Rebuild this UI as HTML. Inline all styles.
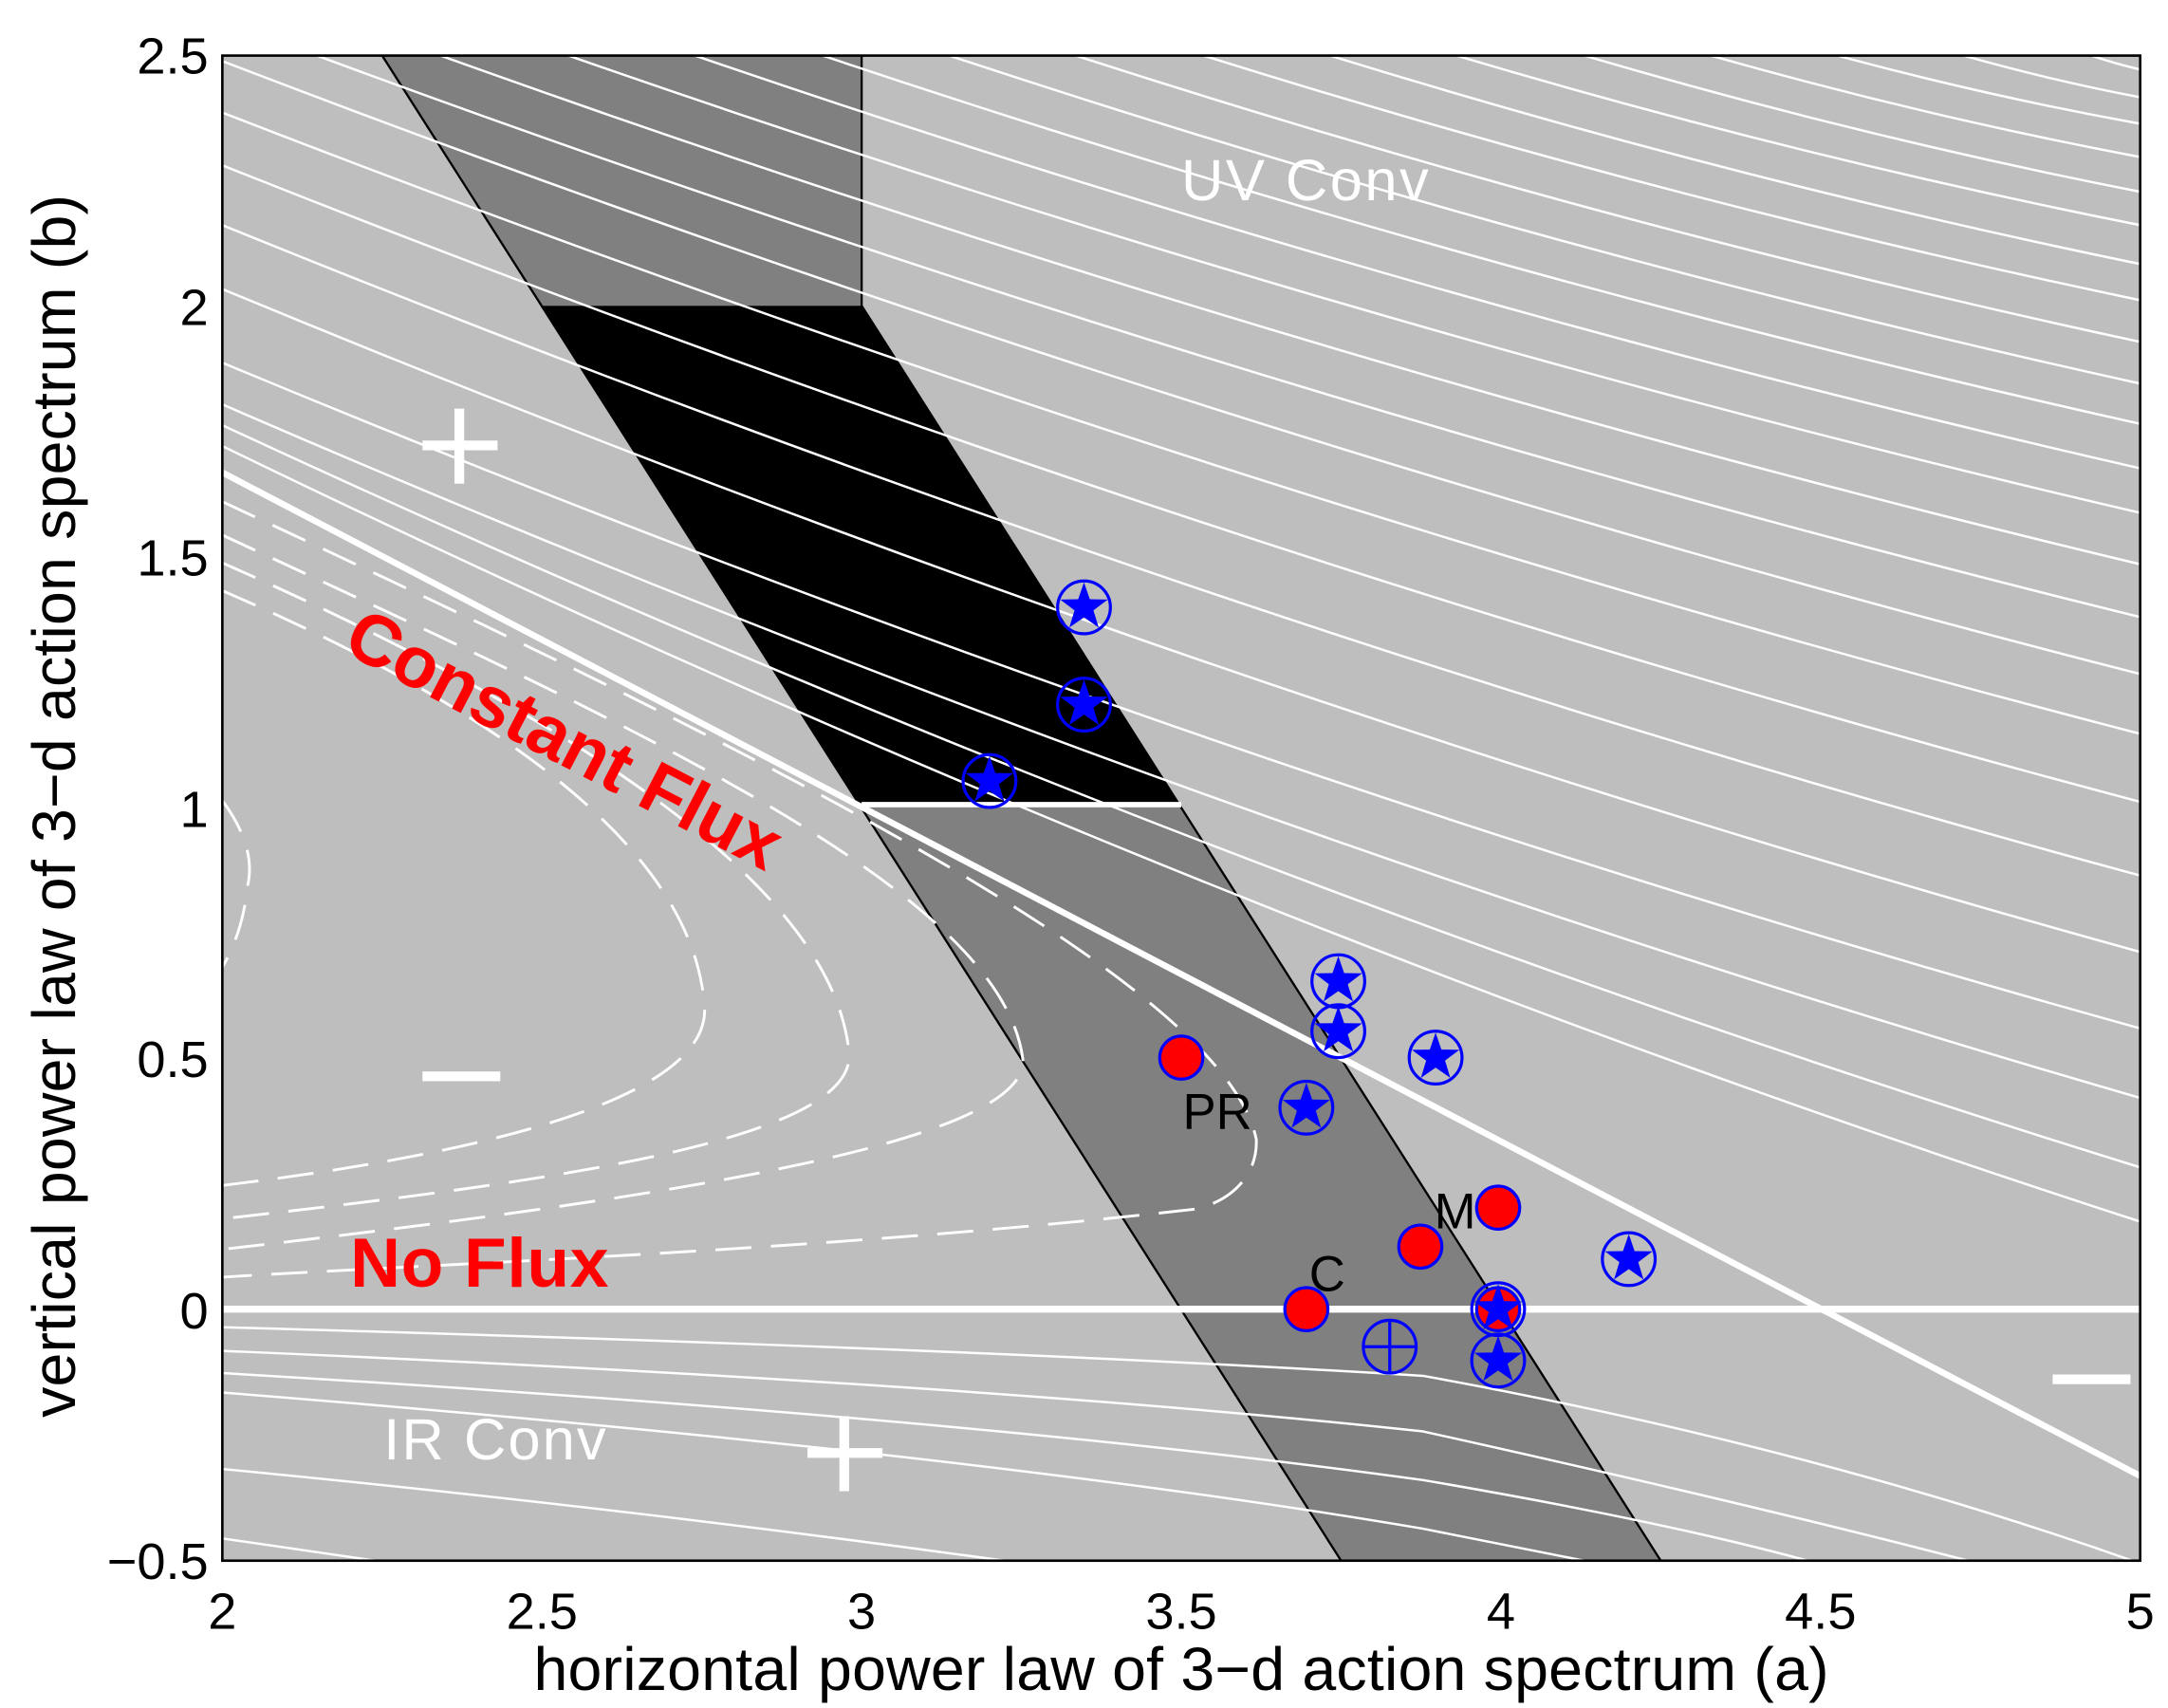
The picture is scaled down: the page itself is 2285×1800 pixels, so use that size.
<!DOCTYPE html>
<html><head><meta charset="utf-8"><style>html,body{margin:0;padding:0;background:#fff}svg{display:block}</style></head>
<body>
<svg width="2285" height="1800" viewBox="0 0 1560 1229" preserveAspectRatio="none" xmlns="http://www.w3.org/2000/svg" font-family="Liberation Sans, Arial, sans-serif">
<defs>
<clipPath id="c"><rect x="160" y="40" width="1380" height="1083"/></clipPath>
<g id="star"><path d="M0,-18 L4.2,-5.8 L17.1,-5.6 L6.8,2.2 L10.6,14.6 L0,7.2 L-10.6,14.6 L-6.8,2.2 L-17.1,-5.6 L-4.2,-5.8 Z" fill="#0000ff"/><circle r="19" fill="none" stroke="#0000ff" stroke-width="2.2"/></g>
<g id="red"><circle r="15.5" fill="#ff0000" stroke="#0000ff" stroke-width="2.2"/></g>
</defs>
<rect x="160" y="40" width="1380" height="1083" fill="#bebebe"/>
<g clip-path="url(#c)">
<polygon points="275,40 620,40 620,220 390,220" fill="#808080"/>
<polygon points="390,220 620,220 850,581 620,581" fill="#000"/>
<polygon points="620,581 850,581 1195,1123 965,1123" fill="#808080"/>
<path d="M275,40 L965,1123 M620,40 L620,220 L1195,1123" stroke="#000" stroke-width="1.6" fill="none"/>
<g stroke="#fff" stroke-width="1.7" fill="none">
<path d="M1505,40 Q1522.5,46 1540,50"/>
<path d="M1413,40 Q1476.5,58 1540,70"/>
<path d="M1322,40 Q1431,69.4 1540,89"/>
<path d="M1231,40 Q1385.5,83.8 1540,113"/>
<path d="M1140,40 Q1340,98.8 1540,138"/>
<path d="M1048,40 Q1294,113.2 1540,162"/>
<path d="M957,40 Q1248.5,130 1540,190"/>
<path d="M866,40 Q1203,145.6 1540,216"/>
<path d="M774,40 Q1157,163.6 1540,246"/>
<path d="M683,40 Q1111.5,181.6 1540,276"/>
<path d="M592,40 Q1066,199 1540,305"/>
<path d="M500,40 Q1020,218.2 1540,337"/>
<path d="M409,40 Q974.5,237.4 1540,369"/>
<path d="M317,40 Q928.5,259.6 1540,406"/>
<path d="M228,40 Q884,282.4 1540,444"/>
<path d="M160,44 Q850,308.6 1540,485"/>
<path d="M160,81 Q850,349.2 1540,528"/>
<path d="M160,119 Q850,393.8 1540,577"/>
<path d="M160,162 Q850,442.8 1540,630"/>
<path d="M160,208 Q850,494.2 1540,685"/>
<path d="M160,261 Q850,548.4 1540,740"/>
<path d="M160,291 Q850,590.4 1540,790"/>
<path d="M160,306 Q850,626.4 1540,840"/>
<path d="M160,321 Q850,655.8 1540,879"/>
<path d="M160,955 Q700,970 1024,990 Q1300,1040 1540,1125"/>
<path d="M160,972 Q700,995 1024,1030 Q1250,1080 1424,1125"/>
<path d="M160,988 Q700,1020 1024,1065 Q1200,1095 1308,1125"/>
<path d="M160,1002 Q700,1045 1024,1100 Q1100,1115 1150,1125"/>
<path d="M160,1057 Q450,1085 737,1125"/>
<path d="M160,1107 L284,1125"/>
</g>
<g stroke="#fff" stroke-width="2" fill="none" stroke-dasharray="26,14">
<path d="M160,361 C500,520 880,700 904,820 C905,850 880,866 860,870 C600,900 300,910 160,919"/>
<path d="M160,385 C450,520 720,640 736,762 C740,820 500,860 160,899"/>
<path d="M160,405 C420,520 600,640 611,758 C615,820 400,850 160,877"/>
<path d="M160,425 C380,520 500,620 507,725 C510,790 350,830 160,853"/>
<path d="M160,576 Q185,610 178,638 Q175,670 160,696"/>
</g>
<path d="M160,340 L1540,1062" stroke="#fff" stroke-width="4.5"/>
<path d="M160,942 L1540,942" stroke="#fff" stroke-width="5"/>
<path d="M620,579 L850,579" stroke="#fff" stroke-width="4"/>
<g fill="#fff">
<rect x="304" y="317" width="54" height="7"/><rect x="327" y="294" width="7" height="54"/>
<rect x="581" y="1042" width="54" height="7"/><rect x="604" y="1019" width="7" height="54"/>
<rect x="304" y="771" width="56" height="7"/>
<rect x="1477" y="989" width="56" height="7"/>
</g>
<text x="850" y="144" font-size="42" fill="#fff" textLength="178">UV Conv</text>
<text x="276" y="1050" font-size="42" fill="#fff" textLength="160">IR Conv</text>
<text x="245" y="468" font-size="52" font-weight="bold" fill="#ff0000" textLength="345" transform="rotate(27.5 245 468)">Constant Flux</text>
<text x="252" y="926" font-size="50" font-weight="bold" fill="#ff0000" textLength="186">No Flux</text>
<text x="851" y="812" font-size="36" fill="#000">PR</text>
<text x="942" y="929" font-size="36" fill="#000">C</text>
<text x="1032" y="884" font-size="36" fill="#000">M</text>
<use href="#red" x="850" y="761"/>
<use href="#red" x="1078" y="869"/>
<use href="#red" x="1022" y="897"/>
<use href="#red" x="940" y="942"/>
<use href="#red" x="1078" y="942"/>
<use href="#star" x="780" y="437"/>
<use href="#star" x="780" y="507"/>
<use href="#star" x="712" y="562"/>
<use href="#star" x="963" y="706"/>
<use href="#star" x="963" y="742"/>
<use href="#star" x="1033" y="761"/>
<use href="#star" x="940" y="797"/>
<use href="#star" x="1172" y="906"/>
<use href="#star" x="1078" y="942"/>
<use href="#star" x="1078" y="979"/>
<g stroke="#0000ff" stroke-width="2.2" fill="none"><circle cx="1000" cy="969" r="19"/><path d="M981,969 H1019 M1000,950 V988"/></g>
</g>
<rect x="160" y="40" width="1380" height="1083" fill="none" stroke="#000" stroke-width="1.8"/>
<g font-size="37" fill="#000" text-anchor="end">
<text x="150" y="53">2.5</text>
<text x="150" y="234">2</text>
<text x="150" y="414">1.5</text>
<text x="150" y="595">1</text>
<text x="150" y="775">0.5</text>
<text x="150" y="956">0</text>
<text x="150" y="1136">−0.5</text>
</g>
<g font-size="37" fill="#000" text-anchor="middle">
<text x="160" y="1172">2</text>
<text x="390" y="1172">2.5</text>
<text x="620" y="1172">3</text>
<text x="850" y="1172">3.5</text>
<text x="1080" y="1172">4</text>
<text x="1310" y="1172">4.5</text>
<text x="1540" y="1172">5</text>
</g>
<text x="850" y="1216" font-size="44" text-anchor="middle" textLength="932">horizontal power law of 3−d action spectrum (a)</text>
<text x="0" y="0" font-size="44" text-anchor="middle" textLength="880" transform="translate(54 580) rotate(-90)">vertical power law of 3−d action spectrum (b)</text>
</svg>
</body></html>
